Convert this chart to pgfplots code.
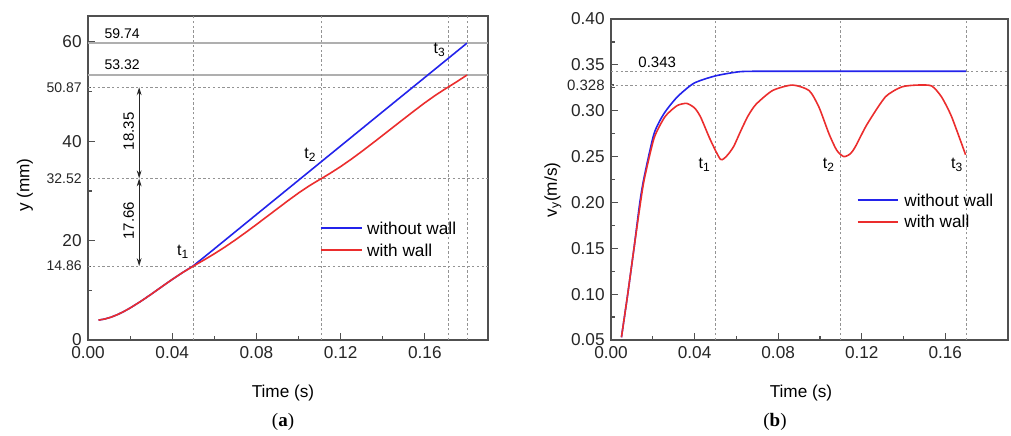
\documentclass[border=0pt]{standalone}
\usepackage{pgfplots}
\pgfplotsset{compat=1.18}
\usepackage{fontspec}
\setmainfont{Liberation Sans}
\newfontfamily\capfont{Liberation Serif}
\usetikzlibrary{arrows.meta}
\definecolor{myblue}{RGB}{35,35,235}
\definecolor{myred}{RGB}{235,45,45}
\definecolor{framec}{RGB}{80,80,80}
\definecolor{refgray}{RGB}{175,175,175}

\pgfplotsset{
 common/.style={
  scale only axis,
  axis line style={framec, line width=0.75pt},
  tick align=inside,
  xtick pos=bottom, ytick pos=left,
  tick style={framec, line width=0.6pt},
  major tick length=3.5pt, minor tick length=2pt,
  minor x tick num=1, minor y tick num=1,
  tick label style={font=\fontsize{8.6}{10}\selectfont, text=black!85, inner sep=0.8pt},
  xticklabel style={yshift=-2.2pt},
  yticklabel style={xshift=-2.2pt},
  /pgf/number format/assume math mode=true,
  xmin=0, xmax=0.19,
  xtick={0,0.04,0.08,0.12,0.16},
  xticklabels={0.00,0.04,0.08,0.12,0.16},
 },
 dashline/.style={gray!85, line width=0.4pt, dash pattern=on 1.2pt off 1.2pt},
 solidref/.style={refgray, line width=0.9pt},
}
\newcommand{\legfont}{\fontsize{8.6}{10}\selectfont}

\begin{document}
\begin{tikzpicture}
\path[use as bounding box] (0,0) rectangle (505.5pt,217.5pt);

% ---------------- (a) ----------------
\begin{axis}[common,
  at={(44pt,47.5pt)}, anchor=south west,
  width=200pt, height=162pt,
  ymin=0, ymax=65.2,
  ytick={0,20,40,60},
  extra y ticks={14.86,32.52,50.87},
  extra y tick labels={14.86,32.52,50.87},
  extra y tick style={major tick length=1.5pt, yticklabel style={font=\fontsize{7}{8}\selectfont}},
]
\addplot[solidref, forget plot] coordinates {(0,59.74) (0.19,59.74)};
\addplot[solidref, forget plot] coordinates {(0,53.32) (0.19,53.32)};
\addplot[dashline, forget plot] coordinates {(0,50.87) (0.19,50.87)};
\addplot[dashline, forget plot] coordinates {(0,32.52) (0.19,32.52)};
\addplot[dashline, forget plot] coordinates {(0,14.86) (0.19,14.86)};
\addplot[dashline, forget plot] coordinates {(0.05,0) (0.05,65.2)};
\addplot[dashline, forget plot] coordinates {(0.111,0) (0.111,65.2)};
\addplot[dashline, forget plot] coordinates {(0.171,0) (0.171,65.2)};
\addplot[dashline, forget plot] coordinates {(0.18,0) (0.18,65.2)};

\addplot[draw=myblue, line width=0.8pt, forget plot] coordinates {
(0.005,4.00) (0.008,4.23) (0.011,4.60) (0.014,5.11) (0.017,5.73) (0.020,6.44)
(0.025,7.76) (0.030,9.20) (0.035,10.71) (0.040,12.19) (0.045,13.60) (0.050,14.92)
(0.055,16.62) (0.060,18.34) (0.080,25.25) (0.100,32.15) (0.120,39.05) (0.140,45.95)
(0.160,52.84) (0.180,59.74)};
\addplot[draw=myred, line width=0.8pt, forget plot] coordinates {
(0.005,4.00) (0.008,4.23) (0.011,4.60) (0.014,5.11) (0.017,5.73) (0.020,6.44)
(0.025,7.76) (0.030,9.20) (0.035,10.71) (0.040,12.19) (0.045,13.59) (0.050,14.86)
(0.0527,15.52) (0.055,16.08) (0.060,17.35) (0.065,18.70) (0.070,20.15) (0.075,21.67)
(0.080,23.24) (0.087,25.48) (0.095,28.04) (0.100,29.58) (0.105,31.00) (0.109,32.03)
(0.111,32.52) (0.112,32.77) (0.115,33.54) (0.120,34.90) (0.125,36.37) (0.130,37.93)
(0.137,40.20) (0.147,43.51) (0.155,46.14) (0.160,47.74) (0.165,49.24) (0.170,50.62)
(0.171,50.87) (0.175,51.93) (0.180,53.32)};

\draw[black!85, line width=0.5pt, {Stealth[length=4pt,width=2.4pt]}-{Stealth[length=4pt,width=2.4pt]}]
  (axis cs:0.0243,50.87) -- (axis cs:0.0243,32.52);
\draw[black!85, line width=0.5pt, {Stealth[length=4pt,width=2.4pt]}-{Stealth[length=4pt,width=2.4pt]}]
  (axis cs:0.0243,32.52) -- (axis cs:0.0243,14.86);
\node[rotate=90, font=\fontsize{7.5}{8}\selectfont] at (axis cs:0.0193,42.0) {18.35};
\node[rotate=90, font=\fontsize{7.5}{8}\selectfont] at (axis cs:0.0193,24.0) {17.66};
\node[font=\fontsize{7}{8}\selectfont] at (axis cs:0.0162,61.7) {59.74};
\node[font=\fontsize{7}{8}\selectfont] at (axis cs:0.0162,55.4) {53.32};
\node[font=\fontsize{8}{9}\selectfont] at (axis cs:0.0452,17.7) {t\textsubscript{1}};
\node[font=\fontsize{8}{9}\selectfont] at (axis cs:0.1057,37.2) {t\textsubscript{2}};
\node[font=\fontsize{8}{9}\selectfont] at (axis cs:0.1671,58.4) {t\textsubscript{3}};
% legend
\draw[myblue, line width=0.8pt] (axis description cs:0.582,0.345) -- (axis description cs:0.684,0.345);
\draw[myred, line width=0.8pt] (axis description cs:0.582,0.278) -- (axis description cs:0.684,0.278);
\node[anchor=west, inner sep=0pt, font=\legfont] at (axis description cs:0.697,0.345) {without wall};
\node[anchor=west, inner sep=0pt, font=\legfont] at (axis description cs:0.697,0.278) {with wall};
\end{axis}

% ---------------- (b) ----------------
\begin{axis}[common,
  at={(305.5pt,47.5pt)}, anchor=south west,
  width=198.5pt, height=160.5pt,
  ymin=0.05, ymax=0.40,
  ytick={0.05,0.10,0.15,0.20,0.25,0.30,0.35,0.40},
  yticklabels={0.05,0.10,0.15,0.20,0.25,0.30,0.35,0.40},
  extra y ticks={0.328},
  extra y tick labels={0.328},
  extra y tick style={major tick length=1.5pt, yticklabel style={font=\fontsize{7.5}{8}\selectfont}},
]
\addplot[dashline, forget plot] coordinates {(0,0.343) (0.19,0.343)};
\addplot[dashline, forget plot] coordinates {(0,0.328) (0.19,0.328)};
\addplot[dashline, forget plot] coordinates {(0.05,0.05) (0.05,0.40)};
\addplot[dashline, forget plot] coordinates {(0.110,0.05) (0.110,0.40)};
\addplot[dashline, forget plot] coordinates {(0.170,0.05) (0.170,0.40)};

\addplot[draw=myblue, line width=0.8pt, smooth, tension=0.4, forget plot] coordinates {
(0.005,0.053) (0.008,0.100) (0.011,0.150) (0.0138,0.200) (0.0159,0.228) (0.0206,0.275)
(0.0254,0.297) (0.0317,0.315) (0.0397,0.330) (0.050,0.338) (0.0619,0.3426) (0.075,0.343)
(0.100,0.343) (0.130,0.343) (0.170,0.343)};
\addplot[draw=myred, line width=0.8pt, smooth, tension=0.4, forget plot] coordinates {
(0.005,0.053) (0.008,0.100) (0.011,0.150) (0.0138,0.195) (0.0159,0.225) (0.0206,0.270)
(0.0254,0.292) (0.0286,0.300) (0.032,0.306) (0.0362,0.308) (0.040,0.303) (0.0429,0.293)
(0.0476,0.268) (0.0524,0.247) (0.0555,0.251) (0.0587,0.261) (0.0619,0.277) (0.0655,0.294)
(0.0694,0.307) (0.0773,0.322) (0.0868,0.328) (0.0948,0.322) (0.0995,0.304) (0.1043,0.275)
(0.1080,0.257) (0.1114,0.250) (0.1145,0.253) (0.117,0.261) (0.1225,0.285) (0.1313,0.315)
(0.1392,0.326) (0.1471,0.328) (0.1535,0.327) (0.1582,0.315) (0.163,0.2935) (0.1697,0.252)};

\node[font=\fontsize{7.5}{8}\selectfont] at (axis cs:0.0221,0.3524) {0.343};
\node[font=\fontsize{8}{9}\selectfont] at (axis cs:0.0448,0.2408) {t\textsubscript{1}};
\node[font=\fontsize{8}{9}\selectfont] at (axis cs:0.1043,0.2408) {t\textsubscript{2}};
\node[font=\fontsize{8}{9}\selectfont] at (axis cs:0.1657,0.2408) {t\textsubscript{3}};
% legend
\draw[myblue, line width=0.8pt] (axis description cs:0.621,0.436) -- (axis description cs:0.724,0.436);
\draw[myred, line width=0.8pt] (axis description cs:0.621,0.3685) -- (axis description cs:0.724,0.3685);
\node[anchor=west, inner sep=0pt, font=\legfont] at (axis description cs:0.738,0.436) {without wall};
\node[anchor=west, inner sep=0pt, font=\legfont] at (axis description cs:0.738,0.3685) {with wall};
\end{axis}

% labels
\node[rotate=90, font=\fontsize{8.6}{10}\selectfont] at (12.5pt,125pt) {y (mm)};
\node[font=\fontsize{8.6}{10}\selectfont] at (141.5pt,21pt) {Time (s)};
\node[font=\capfont\fontsize{9.5}{11}\selectfont] at (141.5pt,6.5pt) {(\textbf{a})};
\node[rotate=90, font=\fontsize{8.6}{10}\selectfont] at (276.5pt,122.5pt) {v\textsubscript{y}(m/s)};
\node[font=\fontsize{8.6}{10}\selectfont] at (400.5pt,21pt) {Time (s)};
\node[font=\capfont\fontsize{9.5}{11}\selectfont] at (387.5pt,6.5pt) {(\textbf{b})};
\end{tikzpicture}
\end{document}
